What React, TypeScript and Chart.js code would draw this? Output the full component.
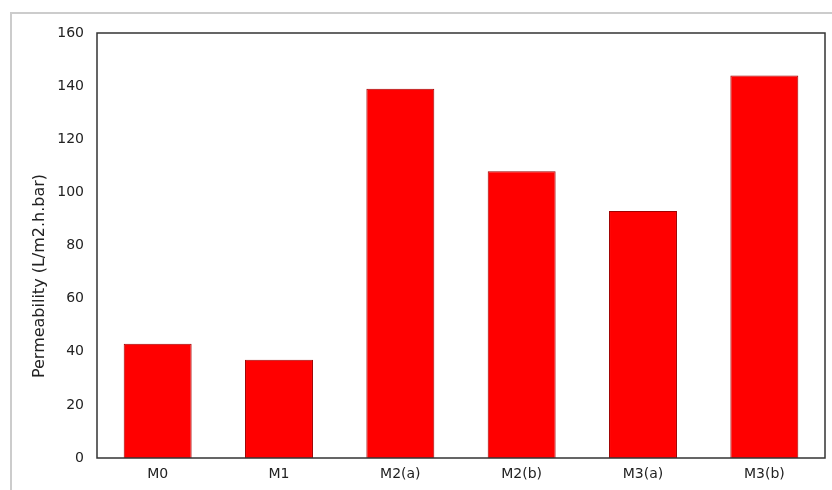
import React, { useEffect, useRef } from "react";
import { Chart, registerables } from "chart.js";

Chart.register(...registerables);

const categories = ["M0", "M1", "M2(a)", "M2(b)", "M3(a)", "M3(b)"];
const permeability = [43, 37, 139, 108, 93, 144];
const yTitle = "Permeability (L/m2.h.bar)";
const FONT = "'DejaVu Sans', sans-serif";

const boxPlugin = {
  id: "boxPlugin",
  afterDraw(chart: any) {
    const { ctx, chartArea } = chart;
    ctx.save();
    ctx.strokeStyle = "#333333";
    ctx.lineWidth = 1.5;
    ctx.strokeRect(chartArea.left, chartArea.top, chartArea.right - chartArea.left, chartArea.bottom - chartArea.top);
    ctx.translate(40, 276);
    ctx.rotate(-Math.PI / 2);
    ctx.fillStyle = "#222222";
    ctx.font = `16px ${FONT}`;
    ctx.textAlign = "center";
    ctx.textBaseline = "middle";
    ctx.fillText(yTitle, 0, 0);
    ctx.restore();
  },
};

export default function App() {
  const ref = useRef<HTMLCanvasElement | null>(null);
  useEffect(() => {
    if (!ref.current) return;
    const chart = new Chart(ref.current, {
      type: "bar",
      data: {
        labels: categories,
        datasets: [
          {
            data: permeability,
            backgroundColor: "#ff0000",
            borderColor: "#a00000",
            borderWidth: 1,
            categoryPercentage: 1,
            barPercentage: 0.56,
          },
        ],
      },
      options: {
        animation: false,
        responsive: false,
        maintainAspectRatio: false,
        layout: { padding: { left: 0, top: 33, right: 7, bottom: 0 } },
        plugins: { legend: { display: false }, tooltip: { enabled: false } },
        scales: {
          x: {
            grid: { display: false, drawTicks: false },
            border: { display: false },
            ticks: { color: "#222222", font: { family: FONT, size: 14 }, padding: 8, maxRotation: 0 },
            afterFit: (s: any) => { s.height = 32; },
          },
          y: {
            min: 0,
            max: 160,
            grid: { display: false, drawTicks: false },
            border: { display: false },
            ticks: { stepSize: 20, color: "#222222", font: { family: FONT, size: 14 }, padding: 13 },
            afterFit: (s: any) => { s.width = 97; },
          },
        },
      },
      plugins: [boxPlugin],
    });
    return () => chart.destroy();
  }, []);
  return (
    <div style={{ position: "absolute", left: 0, top: 0, width: 832, height: 490, overflow: "hidden", background: "#fff" }}>
      <canvas ref={ref} width={832} height={490} style={{ position: "absolute", left: 0, top: 0 }} />
      <div style={{ position: "absolute", left: 10, top: 12, width: 900, height: 600, border: "2px solid #cccccc", pointerEvents: "none" }} />
    </div>
  );
}
